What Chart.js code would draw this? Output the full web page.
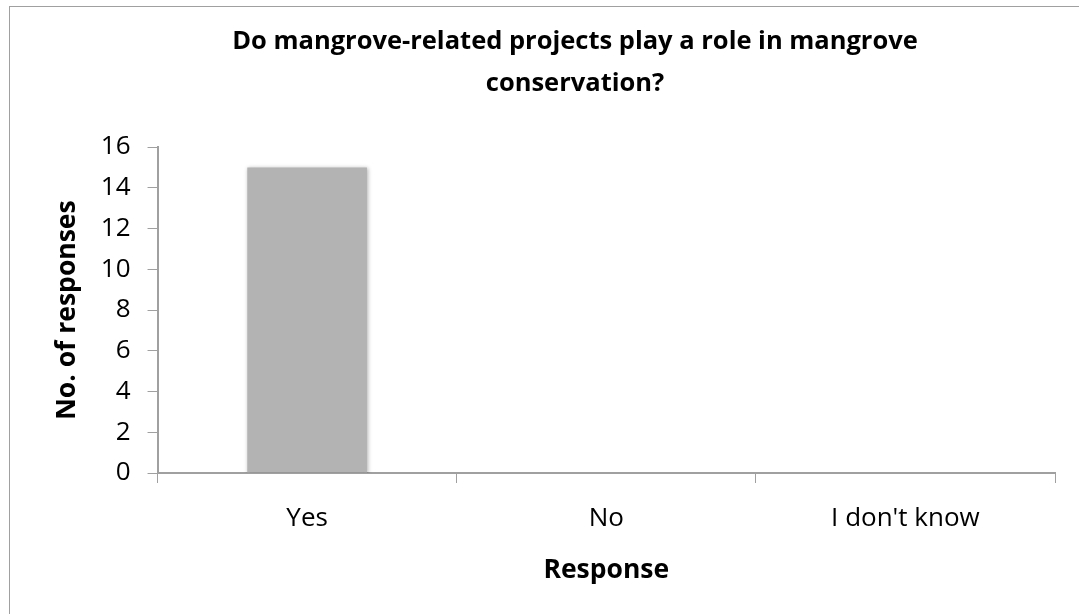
<!DOCTYPE html>
<html>
<head>
<meta charset="utf-8">
<script src="https://cdn.jsdelivr.net/npm/chart.js@4/dist/chart.umd.min.js"></script>
<style>
  html, body { margin: 0; padding: 0; background: #fff; overflow: hidden; width: 1079px; height: 614px; }
  #frame {
    position: absolute; left: 9px; top: 6px;
    width: 1200px; height: 700px;
    border: 1px solid #a0a0a0;
    background: #fff;
  }
  #chart { display: block; }
</style>
</head>
<body>
<div id="frame"><canvas id="chart" width="1130" height="607"></canvas></div>
<script>
  const TITLE_LINES = ["Do mangrove-related projects play a role in mangrove", "conservation?"];
  const CATEGORIES = ["Yes", "No", "I don't know"];
  const RESPONSES = [15, 0, 0];
  const Y_MIN = 0;
  const Y_MAX = 16;
  const Y_STEP = 2;

  const AXIS_GRAY = "#a0a0a0";
  const FONT = "'Open Sans', sans-serif";

  // soft shadow under the bar, like the office chart
  const barShadow = {
    id: "barShadow",
    beforeDatasetDraw(chart) {
      const ctx = chart.ctx;
      ctx.save();
      ctx.shadowColor = "rgba(0,0,0,0.3)";
      ctx.shadowBlur = 4;
      ctx.shadowOffsetX = 1;
      ctx.shadowOffsetY = 1;
    },
    afterDatasetDraw(chart) {
      chart.ctx.restore();
    },
  };

  new Chart(document.getElementById("chart"), {
    type: "bar",
    data: {
      labels: CATEGORIES,
      datasets: [{
        data: RESPONSES,
        backgroundColor: "#b3b3b3",
        borderWidth: 0,
        categoryPercentage: 1,
        barPercentage: 0.4,
      }],
    },
    plugins: [barShadow],
    options: {
      responsive: false,
      animation: false,
      layout: { padding: { left: 0, right: 0, top: 0, bottom: 28 } },
      plugins: {
        legend: { display: false },
        tooltip: { enabled: false },
        title: {
          display: true,
          text: TITLE_LINES,
          color: "#000",
          font: { family: FONT, size: 25.5, weight: "bold", lineHeight: 42 / 25.5 },
          padding: { top: 14, bottom: 42 },
        },
      },
      scales: {
        x: {
          grid: { display: true, offset: true, drawOnChartArea: false, tickLength: 10, color: AXIS_GRAY, lineWidth: 1 },
          border: { display: true, color: AXIS_GRAY, width: 2 },
          ticks: { color: "#000", font: { family: FONT, size: 26 }, padding: 20 },
          title: {
            display: true,
            text: "Response",
            color: "#000",
            font: { family: FONT, size: 26.5, weight: "bold" },
            padding: { top: 0, bottom: 0 },
          },
        },
        y: {
          min: Y_MIN,
          max: Y_MAX,
          grid: { display: true, drawOnChartArea: false, tickLength: 10, color: AXIS_GRAY, lineWidth: 1 },
          border: { display: true, color: AXIS_GRAY, width: 2 },
          ticks: { stepSize: Y_STEP, color: "#000", font: { family: FONT, size: 26 }, padding: 17 },
          title: {
            display: true,
            text: "No. of responses",
            color: "#000",
            font: { family: FONT, size: 26.5, weight: "bold" },
            padding: { top: 42, bottom: 0 },
          },
        },
        yRight: {
          position: "right",
          display: true,
          grid: { display: false },
          border: { display: false },
          ticks: { display: false },
          afterFit(scale) { scale.width = 85; },
        },
      },
    },
  });
</script>
</body>
</html>
